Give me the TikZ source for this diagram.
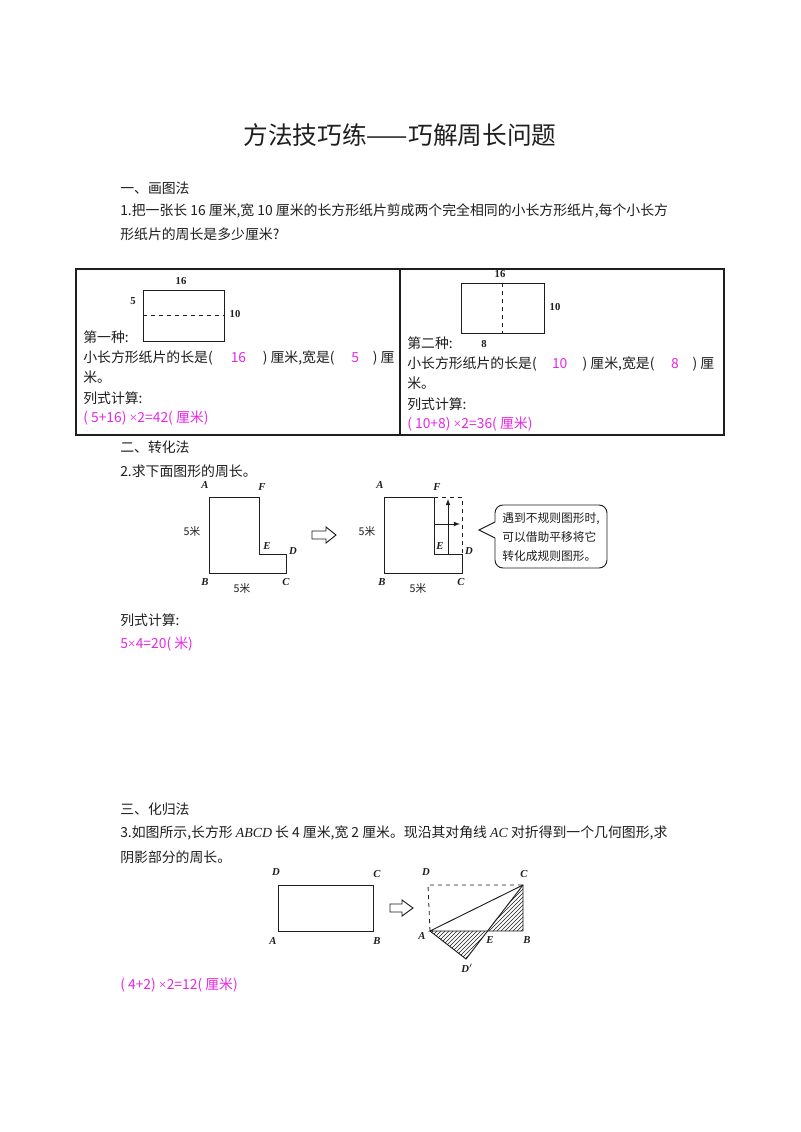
\documentclass[tikz,border=0pt]{standalone}
\usepackage{fontspec}
\setmainfont{Liberation Serif}
\newfontfamily\cjk{Noto Sans CJK SC}
\newfontfamily\lser{Liberation Serif}
\newcommand\tms{{\lser ×}}
\usetikzlibrary{patterns}
\definecolor{mag}{RGB}{230,40,230}
\definecolor{ink}{RGB}{30,30,30}
\tikzset{
 txt/.style={anchor=west,inner sep=0pt,font=\cjk\fontsize{10.4}{12}\selectfont,text=ink},
 ans/.style={txt,text=mag},
 lab/.style={inner sep=0pt,font=\fontsize{8}{9}\selectfont\itshape\bfseries,text=ink},
 num/.style={inner sep=0pt,font=\fontsize{8}{9}\selectfont\bfseries,text=ink},
 shp/.style={draw=ink,line width=0.7pt},
 hollow/.style={draw=ink,line width=0.7pt,fill=white}
}
\begin{document}
\begin{tikzpicture}[x=0.75pt,y=-0.75pt]
\useasboundingbox (0,0) rectangle (800,1132);
\fill[white] (0,0) rectangle (800,1132);
\node[inner sep=0pt,font=\cjk\fontsize{18.5}{20}\selectfont,text=ink] (title) at (400,135) {方法技巧练——巧解周长问题};
\node[txt] (s1) at (120,188) {一、画图法};
\node[txt] (q1a) at (120,211) {1.把一张长 16 厘米,宽 10 厘米的长方形纸片剪成两个完全相同的小长方形纸片,每个小长方};
\node[txt] (q1b) at (120,234) {形纸片的周长是多少厘米?};
% table
\draw[ink,line width=0.9pt] (76,269) rectangle (724,435);
\draw[ink,line width=0.9pt] (400,269) -- (400,435);
% left fig
\draw[shp] (143,290) rectangle (224,341);
\draw[shp,dashed,line width=0.6pt] (143,315) -- (224,315);
\node[num] (l16) at (181,281) {16};
\node[num] (l5) at (133,301) {5};
\node[num] (l10) at (235,314) {10};
\node[txt] (k1) at (83,337) {第一种:};
\node[txt] (k1a) at (83,358) {小长方形纸片的长是(\hspace{1.3em}{\color{mag}16}\hspace{1.2em}) 厘米,宽是(\hspace{1.2em}{\color{mag}5}\hspace{1.0em}) 厘};
\node[txt] (k1b) at (83,377) {米。};
\node[txt] (k1c) at (83,398) {列式计算:};
\node[ans] (k1d) at (83,418) {( 5+16) \tms2=42( 厘米)};
% right fig
\draw[shp] (461,283) rectangle (544,333);
\draw[shp,dashed,line width=0.6pt] (502,283) -- (502,333);
\node[num] (r16) at (500,274) {16};
\node[num] (r10) at (555,307) {10};
\node[num] (r8) at (484,344) {8};
\node[txt] (k2) at (407,343) {第二种:};
\node[txt] (k2a) at (407,364) {小长方形纸片的长是(\hspace{1.1em}{\color{mag}10}\hspace{1.1em}) 厘米,宽是(\hspace{1.2em}{\color{mag}8}\hspace{1.0em}) 厘};
\node[txt] (k2b) at (407,383) {米。};
\node[txt] (k2c) at (407,404) {列式计算:};
\node[ans] (k2d) at (407,424) {( 10+8) \tms2=36( 厘米)};
% section 2
\node[txt] (s2) at (120,447) {二、转化法};
\node[txt] (q2) at (120,471) {2.求下面图形的周长。};
\draw[shp] (209,497) -- (259,497) -- (259,554) -- (286,554) -- (286,573) -- (209,573) -- cycle;
\node[lab] (pA) at (205,485) {A};
\node[lab] (pF) at (262,487) {F};
\node[lab] (pE) at (267,546) {E};
\node[lab] (pD) at (293,551) {D};
\node[lab] (pB) at (205,582) {B};
\node[lab] (pC) at (286,582) {C};
\node[num,font=\cjk\fontsize{8}{9}\selectfont] (m1) at (192,531) {5米};
\node[num,font=\cjk\fontsize{8}{9}\selectfont] (m2) at (242,588) {5米};
\draw[hollow] (312,531) -- (326,531) -- (326,527) -- (336,535) -- (326,543) -- (326,539) -- (312,539) -- cycle;
\draw[shp] (384,497) -- (434,497) -- (434,554) -- (462,554) -- (462,573) -- (384,573) -- cycle;
\draw[shp,dashed,line width=0.6pt] (434,497) -- (462,497) -- (462,554);
\draw[ink,line width=0.6pt,-latex] (448,554) -- (448,499);
\draw[ink,line width=0.6pt,-latex] (434,524) -- (460,524);
\node[lab] (qA) at (380,485) {A};
\node[lab] (qF) at (437,487) {F};
\node[lab] (qE) at (440,546) {E};
\node[lab] (qD) at (469,551) {D};
\node[lab] (qB) at (382,582) {B};
\node[lab] (qC) at (461,582) {C};
\node[num,font=\cjk\fontsize{8}{9}\selectfont] (m3) at (367,531) {5米};
\node[num,font=\cjk\fontsize{8}{9}\selectfont] (m4) at (418,588) {5米};
\draw[ink,line width=0.7pt,rounded corners=6pt] (495,522) -- (495,505) -- (607,505) -- (607,568) -- (495,568) -- (495,538);
\draw[ink,line width=0.7pt] (495,522) -- (479,530) -- (495,538);
\node[inner sep=0pt,align=left,font=\cjk\fontsize{8.8}{14}\selectfont,text=ink] (note) at (551,537) {遇到不规则图形时,\\可以借助平移将它\\转化成规则图形。};
\node[txt] (c2) at (120,620) {列式计算:};
\node[ans] (a2) at (120,644) {5\tms4=20( 米)};
% section 3
\node[txt] (s3) at (120,809) {三、化归法};
\node[txt] (q3a) at (120,833) {3.如图所示,长方形 {\lser\itshape ABCD} 长 4 厘米,宽 2 厘米。现沿其对角线 {\lser\itshape AC} 对折得到一个几何图形,求};
\node[txt] (q3b) at (120,857) {阴影部分的周长。};
\draw[shp] (278,885) rectangle (373,931);
\node[lab] (tD) at (276,872) {D};
\node[lab] (tC) at (377,874) {C};
\node[lab] (tA) at (273,941) {A};
\node[lab] (tB) at (377,941) {B};
\draw[hollow] (390,904) -- (402,904) -- (402,900) -- (413,908) -- (402,916) -- (402,912) -- (390,912) -- cycle;
\path[pattern=north east lines,pattern color=ink] (430,931) -- (487,931) -- (466,959) -- cycle;
\path[pattern=north east lines,pattern color=ink] (487,931) -- (523,885) -- (523,931) -- cycle;
\draw[shp,dashed,line width=0.6pt] (430,931) -- (428,885) -- (523,885);
\draw[shp] (430,931) -- (523,931) -- (523,885) -- cycle;
\draw[shp] (430,931) -- (466,959) -- (523,885);
\node[lab] (uD) at (426,872) {D};
\node[lab] (uC) at (524,874) {C};
\node[lab] (uA) at (422,936) {A};
\node[lab] (uE) at (490,940) {E};
\node[lab] (uB) at (527,940) {B};
\node[lab] (uD2) at (467,968) {D$'$};
\node[ans] (a3) at (120,985) {( 4+2) \tms2=12( 厘米)};
\end{tikzpicture}
\end{document}
